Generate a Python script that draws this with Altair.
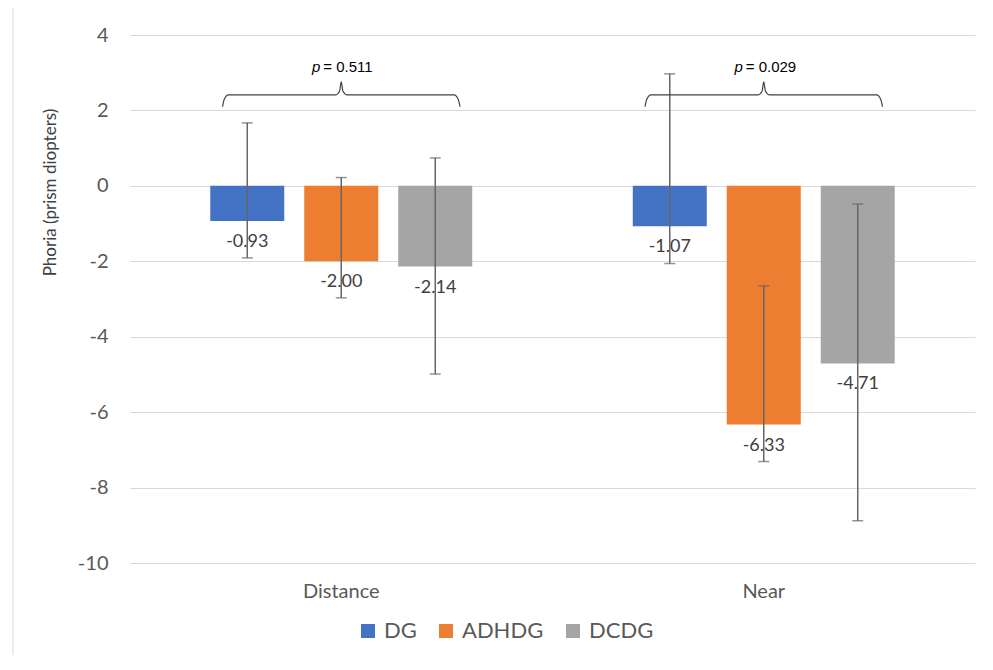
import altair as alt
import pandas as pd

groups = ["DG", "ADHDG", "DCDG"]
colors = ["#4472C4", "#ED7D31", "#A5A5A5"]
conditions = ["Distance", "Near"]

means_distance = [-0.93, -2.00, -2.14]
upper_distance = [1.67, 0.22, 0.74]
lower_distance = [-1.91, -2.97, -4.99]

means_near = [-1.07, -6.33, -4.71]
upper_near = [2.97, -2.65, -0.48]
lower_near = [-2.06, -7.31, -8.88]

p_values = ["0.511", "0.029"]

# bracket geometry (in data units: x band units, y phoria units)
brace_half = 0.281
brace_y = 2.41
brace_end_y = 2.10
brace_peak_y = 2.76
p_text_y = 3.16

rows = []
for cond, ms, us, ls in [("Distance", means_distance, upper_distance, lower_distance),
                         ("Near", means_near, upper_near, lower_near)]:
    for g, m, u, l in zip(groups, ms, us, ls):
        rows.append(dict(condition=cond, group=g, mean=m, upper=u, lower=l, label=f"{m:.2f}"))
df = pd.DataFrame(rows)

brace_rows = []
for i, cond in enumerate(conditions):
    c = i + 0.5
    x0, x1 = c - brace_half, c + brace_half
    pts = [
        (x0, brace_end_y), (x0 + 0.004, brace_y - 0.12), (x0 + 0.014, brace_y),
        (c - 0.014, brace_y), (c - 0.004, brace_y + 0.1), (c, brace_peak_y),
        (c + 0.004, brace_y + 0.1), (c + 0.014, brace_y),
        (x1 - 0.014, brace_y), (x1 - 0.004, brace_y - 0.12), (x1, brace_end_y),
    ]
    for k, (bx, by) in enumerate(pts):
        brace_rows.append(dict(cond=cond, k=k, bx=bx, by=by))
brace_df = pd.DataFrame(brace_rows)

ptext_df = pd.DataFrame(dict(cond=conditions, px=[0.5, 1.5], py=[p_text_y] * 2,
                             ptxt=["= " + p for p in p_values]))

FONT = "Lato"
GRAY = "#595959"

x_scale = alt.Scale(paddingInner=0, paddingOuter=0)
x_axis = alt.Axis(title=None, labelAngle=0, labelFontSize=20, labelColor=GRAY,
                  labelPadding=18, domain=False, ticks=False, labelFont=FONT)
x_main = alt.X("condition:N", sort=conditions, scale=x_scale, axis=x_axis)
xo_enc = alt.XOffset("group:N", sort=groups,
                     scale=alt.Scale(paddingInner=0.2128, paddingOuter=0.854))

y_axis = alt.Axis(values=list(range(-10, 5, 2)), title="Phoria (prism diopters)",
                  labelExpr="'' + datum.value", labelAlign="right",
                  domain=False, ticks=False, labelFontSize=20, labelColor=GRAY,
                  labelFont=FONT, labelPadding=22, gridColor="#d9d9d9", gridWidth=1,
                  titleFontSize=17, titleFont=FONT, titleColor="#404040",
                  titleFontWeight="normal", titleX=-80, titleY=157,
                  titleAngle=-90, titleAlign="center", titleBaseline="middle")
y_scale = alt.Scale(domain=[-10, 4], nice=False, zero=False)

base = alt.Chart(df)

bars = base.mark_bar().encode(
    x=x_main, xOffset=xo_enc,
    y=alt.Y("mean:Q", scale=y_scale, axis=y_axis),
    y2=alt.datum(0),
    color=alt.Color("group:N", sort=groups,
                    scale=alt.Scale(domain=groups, range=colors),
                    legend=alt.Legend(title=None, orient="none", legendX=227, legendY=585,
                                      direction="horizontal", symbolType="square",
                                      symbolSize=196, symbolStrokeWidth=0,
                                      labelFontSize=22, labelColor=GRAY, labelFont=FONT,
                                      columnPadding=18, padding=0, labelOffset=5)),
)

err = base.mark_rule(color="#666666", strokeWidth=1.5).encode(
    x=x_main, xOffset=xo_enc,
    y=alt.Y("lower:Q", scale=y_scale, axis=y_axis), y2="upper:Q")

cap_u = base.mark_tick(color="#666666", thickness=1.5, size=11).encode(
    x=x_main, xOffset=xo_enc, y=alt.Y("upper:Q", scale=y_scale, axis=y_axis))
cap_l = base.mark_tick(color="#666666", thickness=1.5, size=11).encode(
    x=x_main, xOffset=xo_enc, y=alt.Y("lower:Q", scale=y_scale, axis=y_axis))

labels = base.mark_text(dy=21, fontSize=18, color="#404040", font=FONT).encode(
    x=x_main, xOffset=xo_enc, y=alt.Y("mean:Q", scale=y_scale, axis=y_axis),
    text="label:N")

bars_group = alt.layer(bars, err, cap_u, cap_l, labels)

bx_scale = alt.Scale(domain=[0, 2], nice=False, zero=False)

brace = alt.Chart(brace_df).mark_line(color="#404040", strokeWidth=1.2,
                                      interpolate="monotone").encode(
    x=alt.X("bx:Q", scale=bx_scale, axis=None),
    y=alt.Y("by:Q", scale=y_scale, axis=y_axis),
    detail="cond:N", order="k:Q")

p_italic = alt.Chart(ptext_df).mark_text(text="p", fontStyle="italic", fontSize=15,
                                         font="Liberation Sans", color="#000000",
                                         align="right", dx=-21).encode(
    x=alt.X("px:Q", scale=bx_scale, axis=None),
    y=alt.Y("py:Q", scale=y_scale, axis=y_axis))

p_rest = alt.Chart(ptext_df).mark_text(fontSize=15, font="Liberation Sans",
                                       color="#000000", align="left", dx=-18).encode(
    x=alt.X("px:Q", scale=bx_scale, axis=None),
    y=alt.Y("py:Q", scale=y_scale, axis=y_axis),
    text="ptxt:N")

border = alt.Chart(pd.DataFrame(dict(a=[0]))).mark_rule(color="#d9d9d9", strokeWidth=1).encode(
    x=alt.value(-117), y=alt.value(-27), y2=alt.value(650))

annot_group = alt.layer(brace, p_italic, p_rest, border)

chart = alt.layer(bars_group, annot_group).resolve_scale(
    x="independent"
).properties(
    width=845, height=528,
    padding={"left": 122, "top": 27, "right": 10, "bottom": 92},
    autosize=alt.AutoSizeParams(type="none"),
    background="white",
).configure_view(stroke=None)

chart.save("out.html", embed_options={"renderer": "svg", "actions": False})
